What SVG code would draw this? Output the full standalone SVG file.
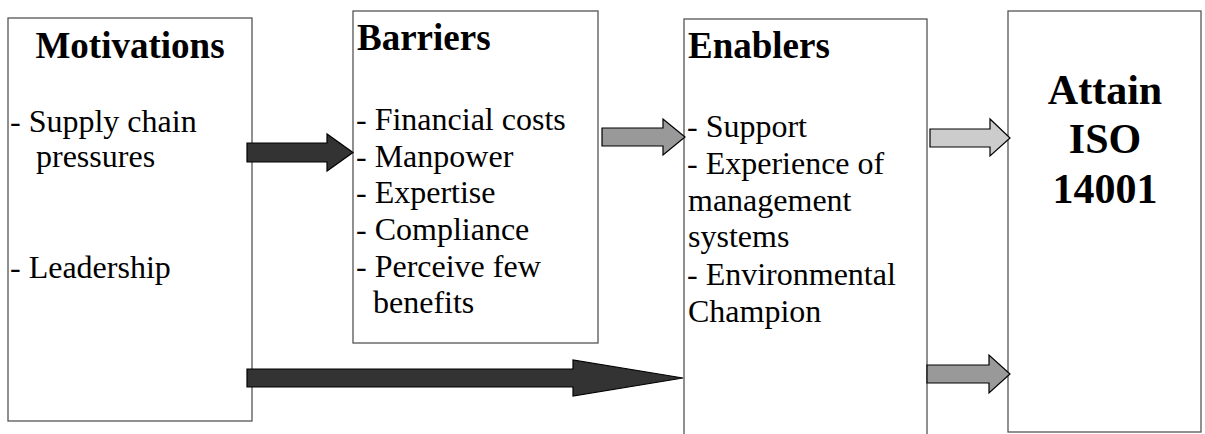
<svg xmlns="http://www.w3.org/2000/svg" width="1205" height="434" viewBox="0 0 1205 434">
<style>
.box{fill:#fff;stroke:#555;stroke-width:1.3}
.t{font-family:"Liberation Serif","Times New Roman",serif;font-size:32px;fill:#000}
.h{font-family:"Liberation Serif","Times New Roman",serif;font-size:37px;font-weight:bold;fill:#000}
.big{font-family:"Liberation Serif","Times New Roman",serif;font-size:42px;font-weight:bold;fill:#000;text-anchor:middle}
.a{stroke:#000;stroke-width:1.2;stroke-linejoin:miter}
.dark{fill:#333}
.mid{fill:#999}
.light{fill:#ccc}
</style>
<rect width="1205" height="434" fill="#fff"/>
<g id="motivations">
<rect class="box" x="8" y="18" width="244" height="403"/>
<text class="h" x="130" y="58" text-anchor="middle">Motivations</text>
<text class="t" x="10" y="132">- Supply chain</text>
<text class="t" x="36" y="167">pressures</text>
<text class="t" x="10" y="278">- Leadership</text>
</g>
<g id="barriers">
<rect class="box" x="353" y="11" width="245" height="332"/>
<text class="h" x="357" y="50">Barriers</text>
<text class="t" x="356" y="130">- Financial costs</text>
<text class="t" x="356" y="167">- Manpower</text>
<text class="t" x="356" y="203">- Expertise</text>
<text class="t" x="356" y="240">- Compliance</text>
<text class="t" x="356" y="277">- Perceive few</text>
<text class="t" x="373" y="313">benefits</text>
</g>
<g id="enablers">
<rect class="box" x="684" y="19" width="243" height="425"/>
<text class="h" x="688" y="58">Enablers</text>
<text class="t" x="687" y="137">- Support</text>
<text class="t" x="687" y="174">- Experience of</text>
<text class="t" x="688" y="211">management</text>
<text class="t" x="688" y="247">systems</text>
<text class="t" x="687" y="285">- Environmental</text>
<text class="t" x="688" y="322">Champion</text>
</g>
<g id="iso">
<rect class="box" x="1008" y="11" width="193" height="421"/>
<text class="big" x="1105" y="104">Attain</text>
<text class="big" x="1105" y="153">ISO</text>
<text class="big" x="1105" y="203">14001</text>
</g>
<g id="connectors">
<polygon class="a dark" points="247,143 327,143 327,134 353,152.5 327,171 327,162 247,162"/>
<polygon class="a mid" points="602,128 663,128 663,119 685,137 663,155 663,146 602,146"/>
<polygon class="a light" points="930,129 990,129 990,119 1010,138 990,156 990,147 930,147"/>
<polygon class="a mid" points="927,365 989,365 989,355 1010,374 989,393 989,383 927,383"/>
<polygon class="a dark" points="247,369 573,369 573,360 683,378 573,396 573,387 247,387"/>
</g>
</svg>
